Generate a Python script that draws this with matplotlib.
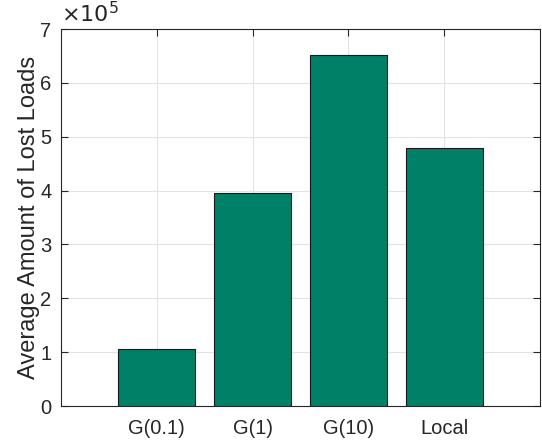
import numpy as np
import matplotlib
matplotlib.use('Agg')
import matplotlib.pyplot as plt

plt.rcParams['font.family'] = ['Liberation Sans', 'DejaVu Sans']

# 各方案的平均失负荷量 (x10^5)
categories = ['G(0.1)', 'G(1)', 'G(10)', 'Local']
lost_loads = [1.05, 3.96, 6.51, 4.79]

fig = plt.figure(figsize=(5.42, 4.45), dpi=100)
ax = fig.add_axes([0.1125, 0.0876, 0.8838, 0.8472])

x = np.arange(1, len(categories) + 1)
ax.bar(x, lost_loads, width=0.8, color='#008066', edgecolor='#1a1a1a',
       linewidth=0.8, zorder=3)

ax.set_xlim(0, 5)
ax.set_ylim(0, 7)
ax.set_xticks(x)
ax.set_xticklabels(categories)
ax.set_yticks(range(0, 8))

ax.grid(True, color='#e3e3e3', linewidth=0.8, zorder=0)
ax.set_axisbelow(True)

for s in ax.spines.values():
    s.set_color('#262626')
    s.set_linewidth(0.8)
ax.tick_params(direction='in', length=5, width=0.8, colors='#262626',
               labelsize=14.5, top=True, right=True)
ax.tick_params(axis='x', pad=9)
ax.tick_params(axis='y', pad=7)

ax.set_ylabel('Average Amount of Lost Loads', fontsize=17, color='#262626',
              labelpad=0)
ax.text(0.0, 1.006, r'$\times10^{5}$', transform=ax.transAxes, fontsize=16,
        color='#262626', ha='left', va='bottom',
        math_fontfamily='dejavusans')

plt.savefig('out.png', dpi=100)
